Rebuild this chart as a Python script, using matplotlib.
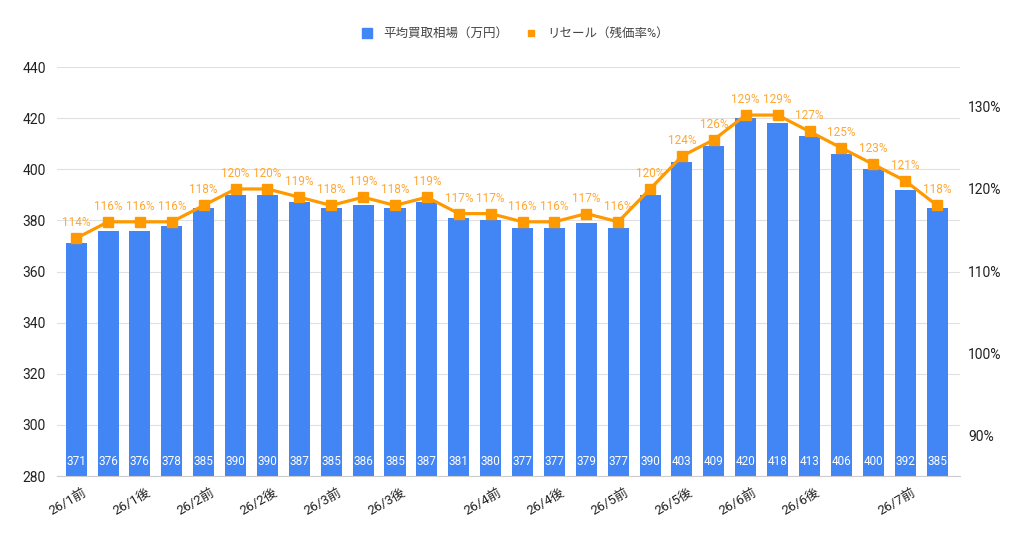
import matplotlib
matplotlib.use("Agg")
import matplotlib.pyplot as plt
import numpy as np

plt.rcParams['font.family'] = ['Roboto', 'Noto Sans CJK JP', 'DejaVu Sans']

# data
prices = [371, 376, 376, 378, 385, 390, 390, 387, 385, 386, 385, 387, 381, 380,
          377, 377, 379, 377, 390, 403, 409, 420, 418, 413, 406, 400, 392, 385]
resale = [114, 116, 116, 116, 118, 120, 120, 119, 118, 119, 118, 119, 117, 117,
          116, 116, 117, 116, 120, 124, 126, 129, 129, 127, 125, 123, 121, 118]
tick_labels = ['26/1前', '', '26/1後', '', '26/2前', '', '26/2後', '', '26/3前', '',
               '26/3後', '', '', '26/4前', '', '26/4後', '', '26/5前', '', '26/5後',
               '', '26/6前', '', '26/6後', '', '', '26/7前', '']

blue = '#4285F4'
orange = '#FF9900'

fig = plt.figure(figsize=(10.24, 5.34), dpi=100)
ax = fig.add_axes([0.0557, 0.1086, 0.8818, 0.7659])
ax2 = ax.twinx()

x = np.arange(len(prices))
bars = ax.bar(x, prices, width=0.66, color=blue, zorder=2)
ax.set_ylim(280, 440)
ax.set_xlim(-0.6, len(prices) - 0.28)
ax.set_yticks(range(280, 441, 20))
ax.grid(axis='y', color='#e0e0e0', linewidth=0.8, zorder=0)
for s in ['top', 'left', 'right']:
    ax.spines[s].set_visible(False)
ax.spines['bottom'].set_color('#cccccc')
ax.tick_params(axis='y', length=0, labelsize=10, labelcolor='#222222', pad=8)
ax.tick_params(axis='x', length=0, pad=7)
ax.set_xticks(x + 0.2)
ax.set_xticklabels(tick_labels, rotation=30, ha='right', rotation_mode='anchor',
                   fontsize=9.5, color='#222222')
for i, v in enumerate(prices):
    ax.text(i, 283, str(v), ha='center', va='bottom', color='white', fontsize=8.5, zorder=3)

ax2.plot(x, resale, color=orange, linewidth=2.3, marker='s', markersize=6.5, zorder=4)
ax2.set_ylim(85.05, 134.85)
ax2.set_yticks([90, 100, 110, 120, 130])
ax2.set_yticklabels([f'{t}%' for t in [90, 100, 110, 120, 130]])
ax2.tick_params(axis='y', length=0, labelsize=10, labelcolor='#222222', pad=6)
for s in ['top', 'left', 'right', 'bottom']:
    ax2.spines[s].set_visible(False)
for i, v in enumerate(resale):
    ax2.annotate(f'{v}%', (i, v), xytext=(0, 6.5), textcoords='offset points',
                 ha='center', va='bottom', color='#FFA733', fontsize=8.5)

# legend
handles = [plt.Line2D([], [], marker='s', color=blue, linestyle='', markersize=7),
           plt.Line2D([], [], marker='s', color=orange, linestyle='', markersize=5)]
fig.legend(handles, ['平均買取相場（万円）', 'リセール（残価率%）'], loc='center',
           bbox_to_anchor=(0.5, 0.937), ncol=2, frameon=False, fontsize=9,
           handletextpad=0.3, columnspacing=0.8, labelcolor='#444444')

fig.savefig('out.png', dpi=100)
